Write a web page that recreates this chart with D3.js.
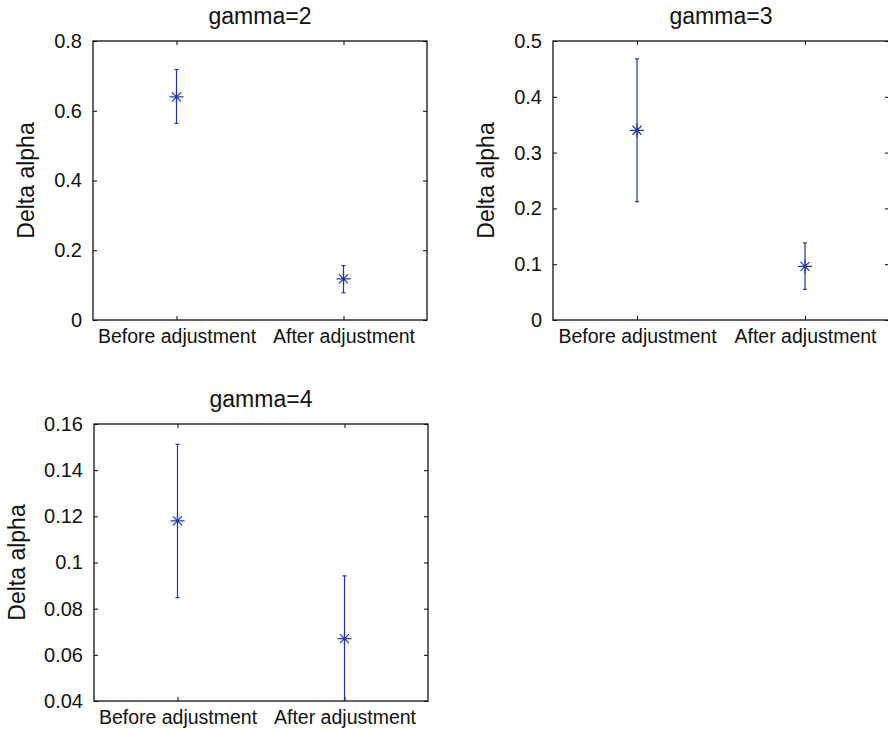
<!DOCTYPE html>
<html>
<head>
<meta charset="utf-8">
<script src="https://cdn.jsdelivr.net/npm/d3@7"></script>
<style>
  body { margin: 0; background: #fff; }
  svg { display: block; font-family: "Liberation Sans", Arial, Helvetica, sans-serif; }
</style>
</head>
<body>
<div id="chart"></div>
<script>
// data
var categories = ["Before adjustment", "After adjustment"];

var g2Mean  = [0.640, 0.118];
var g2Lower = [0.564, 0.078];
var g2Upper = [0.718, 0.156];
var g2Ticks = [0, 0.2, 0.4, 0.6, 0.8];

var g3Mean  = [0.340, 0.096];
var g3Lower = [0.212, 0.055];
var g3Upper = [0.468, 0.138];
var g3Ticks = [0, 0.1, 0.2, 0.3, 0.4, 0.5];

var g4Mean  = [0.118, 0.067];
var g4Lower = [0.0848, 0.040];
var g4Upper = [0.1512, 0.0942];
var g4Ticks = [0.04, 0.06, 0.08, 0.1, 0.12, 0.14, 0.16];

var blue = "#2236a8";

var svg = d3.select("#chart").append("svg")
    .attr("width", 888).attr("height", 731);

// panel layout (left, top, width, height of the axes box)
var panels = [
  {title: "gamma=2", mean: g2Mean, lo: g2Lower, hi: g2Upper, ticks: g2Ticks, box: [93, 41, 334, 279], labX: 26},
  {title: "gamma=3", mean: g3Mean, lo: g3Lower, hi: g3Upper, ticks: g3Ticks, box: [553, 41, 336, 279], labX: 486},
  {title: "gamma=4", mean: g4Mean, lo: g4Lower, hi: g4Upper, ticks: g4Ticks, box: [94, 424, 334, 277], labX: 17}
];

var fmt = function(v) { return String(+v.toFixed(2)); };

panels.forEach(function(p, pi) {
  var left = p.box[0], top = p.box[1], width = p.box[2], height = p.box[3];
  var g = svg.append("g").attr("transform", "translate(" + left + "," + top + ")");

  var x = d3.scaleLinear().domain([0.5, 2.5]).range([0, width]);
  var y = d3.scaleLinear().domain(d3.extent(p.ticks)).range([height, 0]);

  var clipId = "clip" + pi;
  g.append("clipPath").attr("id", clipId)
    .append("rect").attr("width", width).attr("height", height);

  // ticks pointing inward on all four sides
  var tl = 4;
  var yAxisL = d3.axisLeft(y).tickValues(p.ticks).tickSize(-tl).tickPadding(11).tickFormat(fmt);
  var yAxisR = d3.axisRight(y).tickValues(p.ticks).tickSize(-tl).tickFormat("");
  var xAxisB = d3.axisBottom(x).tickValues([1, 2]).tickSize(-tl).tickPadding(9)
      .tickFormat(function(d) { return categories[d - 1]; });
  var xAxisT = d3.axisTop(x).tickValues([1, 2]).tickSize(-tl).tickFormat("");

  g.append("g").attr("class", "axis").call(yAxisL)
    .selectAll("text").style("font-size", "20px");
  g.append("g").attr("class", "axis").attr("transform", "translate(" + width + ",0)").call(yAxisR);
  g.append("g").attr("class", "axis").attr("transform", "translate(0," + height + ")").call(xAxisB)
    .selectAll("text").style("font-size", "19.5px");
  g.append("g").attr("class", "axis").call(xAxisT);

  g.selectAll(".axis .domain").remove();
  g.selectAll(".axis line").attr("stroke", "#000").attr("stroke-width", 1);
  g.selectAll(".axis text").attr("fill", "#111");

  g.append("rect")
    .attr("width", width).attr("height", height)
    .attr("fill", "none").attr("stroke", "#111").attr("stroke-width", 1.3);

  // error bars
  var bars = g.append("g").attr("clip-path", "url(#" + clipId + ")")
    .attr("stroke", blue).attr("stroke-width", 1.2).attr("fill", "none");

  p.mean.forEach(function(m, i) {
    var cx = x(i + 1);
    bars.append("line")
      .attr("x1", cx).attr("x2", cx)
      .attr("y1", y(p.lo[i])).attr("y2", y(p.hi[i]));
    [p.lo[i], p.hi[i]].forEach(function(v) {
      bars.append("line")
        .attr("x1", cx - 2).attr("x2", cx + 2)
        .attr("y1", y(v)).attr("y2", y(v));
    });
    // asterisk marker
    var cy = y(m), r = 7, d = 4.5;
    bars.append("path")
      .attr("d", "M" + (cx - r) + "," + cy + "H" + (cx + r) +
                 "M" + cx + "," + (cy - r) + "V" + (cy + r) +
                 "M" + (cx - d) + "," + (cy - d) + "L" + (cx + d) + "," + (cy + d) +
                 "M" + (cx - d) + "," + (cy + d) + "L" + (cx + d) + "," + (cy - d));
  });

  // title
  svg.append("text")
    .attr("x", left + width / 2).attr("y", top - 17)
    .attr("text-anchor", "middle")
    .style("font-size", "23px").attr("fill", "#111")
    .text(p.title);

  // y label
  svg.append("text")
    .attr("transform", "translate(" + p.labX + "," + (top + height / 2) + ") rotate(-90)")
    .attr("text-anchor", "middle").attr("dy", "0.35em")
    .style("font-size", "23px").attr("fill", "#111")
    .text("Delta alpha");
});
</script>
</body>
</html>
